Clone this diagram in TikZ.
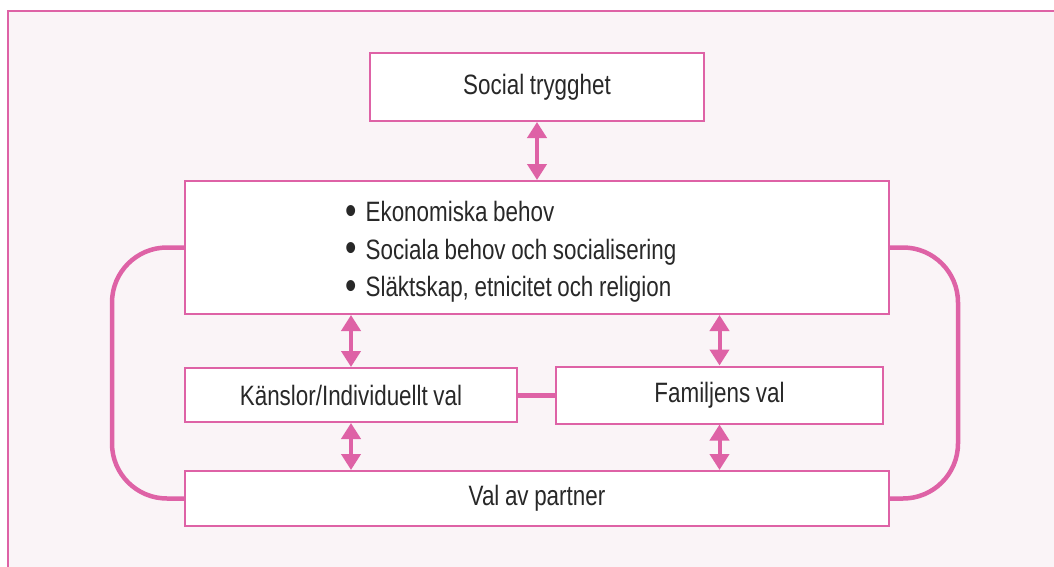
\documentclass[tikz,border=0pt]{standalone}
\usepackage{fontspec}
\setmainfont{Liberation Sans}[FakeStretch=0.8, WordSpace={0.9,0,0}]
\usetikzlibrary{positioning, arrows.meta}

\definecolor{rosa}{RGB}{222,98,166}
\definecolor{ljusrosa}{RGB}{250,244,247}
\definecolor{textgra}{RGB}{40,40,40}

\newcommand{\punkt}{\raisebox{-0.09em}{\scalebox{1.45}{•}}\hspace{0.33em}}

\begin{document}
\begin{tikzpicture}[x=1pt, y=-1pt, node distance=160pt, on grid, auto,
    box/.style={draw=rosa, line width=2pt, fill=white, text=textgra,
        font=\fontsize{28}{37.5}\selectfont},
    link/.style={color=rosa, line width=4pt,
        {Triangle[width=19pt,length=16pt]}-{Triangle[width=19pt,length=16pt]}},
    bow/.style={draw=rosa, line width=4.5pt, rounded corners=55pt}]
    \useasboundingbox (0,0) rectangle (1054,567);
    \fill[ljusrosa] (8,11) rectangle (1054,567);
    \draw[rosa, line width=1.2pt] (1054,11) -- (8,11) -- (8,567);

    \node[box, minimum width=704pt, minimum height=133pt, text width=384pt,
        inner xsep=160pt, align=left] (behov) at (537,247.5)
        {\spaceskip=0pt\xspaceskip=0pt\rule{0pt}{1.05em}\punkt Ekonomiska behov\\ \punkt Sociala behov och socialisering\\ \punkt Släktskap, etnicitet och religion};
    \node[box, minimum width=334pt, minimum height=68pt] (social) [above=160.5pt of behov] {Social trygghet};
    \node[box, minimum width=332pt, minimum height=54pt] (kanslor) [below left=147.5pt and 186pt of behov] {Känslor/Individuellt val};
    \node[box, minimum width=327pt, minimum height=57pt] (familj) [right=368.5pt of kanslor] {Familjens val};
    \node[box, minimum width=704pt, minimum height=55pt] (partner) [below=251pt of behov] {Val av partner};

    \draw[bow] (behov.west) -- ++(-72,0) |- (partner.west);
    \draw[bow] (behov.east) -- ++(68,0) |- (partner.east);
    \draw[rosa, line width=5pt] (kanslor) -- (familj);

    \draw[link] (social.south) -- (social.south |- behov.north);
    \draw[link] (kanslor.north) -- (kanslor.north |- behov.south);
    \draw[link] (kanslor.south) -- (kanslor.south |- partner.north);
    \draw[link] (familj.north) -- (familj.north |- behov.south);
    \draw[link] (familj.south) -- (familj.south |- partner.north);
\end{tikzpicture}
\end{document}
